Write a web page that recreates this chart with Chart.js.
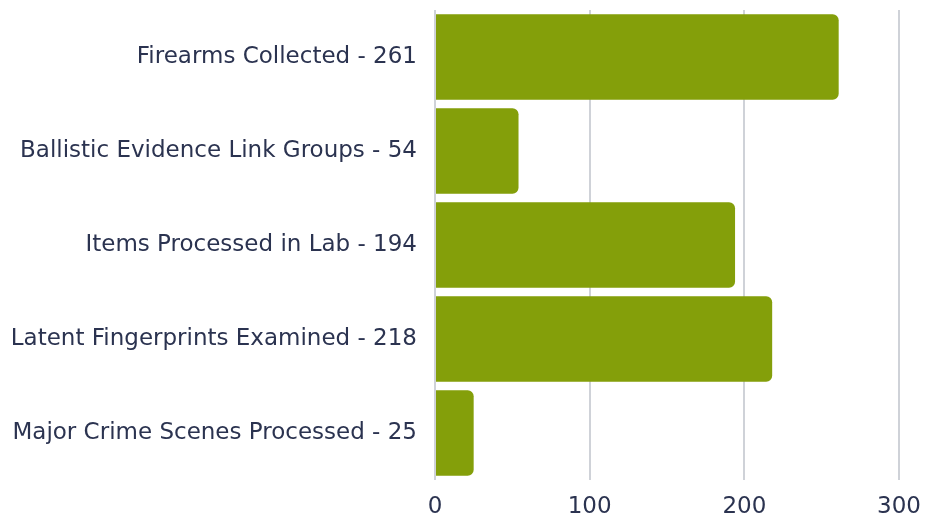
<!DOCTYPE html>
<html>
<head>
<meta charset="utf-8">
<script src="https://cdn.jsdelivr.net/npm/chart.js@4"></script>
<style>
  html, body { margin: 0; padding: 0; background: #fff; }
  #wrap { width: 935px; height: 514px; }
</style>
</head>
<body>
<div id="wrap"><canvas id="forensics"></canvas></div>
<script>
const categories = ['Firearms Collected', 'Ballistic Evidence Link Groups', 'Items Processed in Lab', 'Latent Fingerprints Examined', 'Major Crime Scenes Processed'];
const counts = [261, 54, 194, 218, 25];
const xTicks = [0, 100, 200, 300];

const labels = categories.map((c, i) => c + ' - ' + counts[i]);

new Chart(document.getElementById('forensics'), {
    type: 'bar',
    data: {
        labels: labels,
        datasets: [{
            data: counts,
            backgroundColor: '#849f0a',
            borderRadius: 6,
            borderSkipped: 'start',
            categoryPercentage: 0.912,
            barPercentage: 1
        }]
    },
    options: {
        indexAxis: 'y',
        responsive: true,
        maintainAspectRatio: false,
        animation: false,
        layout: { padding: { top: 10, right: 36, bottom: 0, left: 0 } },
        plugins: { legend: { display: false }, tooltip: { enabled: false } },
        scales: {
            x: {
                min: 0,
                max: 300,
                afterBuildTicks: s => { s.ticks = xTicks.map(v => ({ value: v })); },
                afterFit: s => { s.height = 34; },
                grid: { color: '#cfd2d8', lineWidth: 2, drawTicks: false },
                border: { display: false },
                ticks: { color: '#2b3350', padding: 13, font: { family: 'DejaVu Sans', size: 23 } }
            },
            y: {
                grid: { display: false },
                border: { display: false },
                afterFit: s => { s.width = 435; s.paddingTop = 0; s.paddingBottom = 0; },
                ticks: { color: '#2b3350', padding: 10, font: { family: 'DejaVu Sans', size: 23 } }
            }
        }
    }
});
</script>
</body>
</html>
